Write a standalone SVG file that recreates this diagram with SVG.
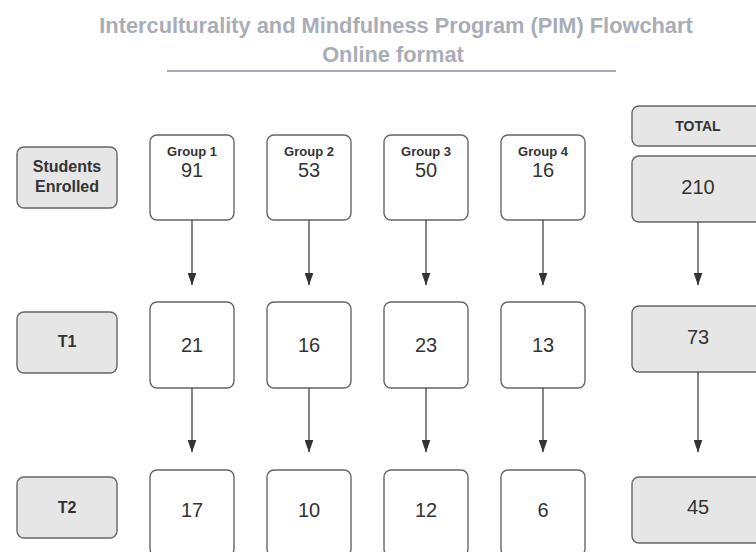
<svg xmlns="http://www.w3.org/2000/svg" width="756" height="552" viewBox="0 0 756 552">
<style>
.t{font-family:"Liberation Sans",Arial,sans-serif;fill:#333;text-anchor:middle}
.b{font-weight:bold}
.box{fill:#fff;stroke:#666;stroke-width:1.4}
.gbox{fill:#e6e6e6;stroke:#666;stroke-width:1.4}
.title{font-family:"Liberation Sans",Arial,sans-serif;font-weight:bold;fill:#a9adb6;text-anchor:middle;font-size:21.8px}
.conn line{stroke:#444;stroke-width:1.3}
</style>
<defs>
<marker id="ah" markerWidth="13" markerHeight="9" refX="12.5" refY="4.5" orient="auto" markerUnits="userSpaceOnUse" viewBox="0 0 13 9">
<path d="M0,0 L13,4.5 L0,9 Z" fill="#333"/>
</marker>
</defs>
<rect width="756" height="552" fill="#fff"/>
<g id="title">
<text class="title" x="396" y="33">Interculturality and Mindfulness Program (PIM) Flowchart</text>
<text class="title" x="393" y="62">Online format</text>
<line x1="167" y1="71" x2="616" y2="71" stroke="#a9adb6" stroke-width="2"/>
</g>
<g id="label-enrolled"><rect class="gbox" x="17" y="147" width="100" height="61" rx="7"/>
<text class="t b" x="67" y="172" font-size="16">Students</text><text class="t b" x="67" y="192" font-size="16">Enrolled</text></g>
<g id="label-t1"><rect class="gbox" x="17" y="312" width="100" height="61" rx="7"/><text class="t b" x="67" y="347" font-size="16">T1</text></g>
<g id="label-t2"><rect class="gbox" x="17" y="477" width="100" height="61" rx="7"/><text class="t b" x="67" y="513" font-size="16">T2</text></g>

<g id="g1-enrolled"><rect class="box" x="150" y="135" width="84" height="85" rx="7"/><text class="t b" x="192" y="156" font-size="13">Group 1</text><text class="t" x="192" y="177" font-size="20">91</text></g>
<g id="g2-enrolled"><rect class="box" x="267" y="135" width="84" height="85" rx="7"/><text class="t b" x="309" y="156" font-size="13">Group 2</text><text class="t" x="309" y="177" font-size="20">53</text></g>
<g id="g3-enrolled"><rect class="box" x="384" y="135" width="84" height="85" rx="7"/><text class="t b" x="426" y="156" font-size="13">Group 3</text><text class="t" x="426" y="177" font-size="20">50</text></g>
<g id="g4-enrolled"><rect class="box" x="501" y="135" width="84" height="85" rx="7"/><text class="t b" x="543" y="156" font-size="13">Group 4</text><text class="t" x="543" y="177" font-size="20">16</text></g>

<g id="g1-t1"><rect class="box" x="150" y="302" width="84" height="86" rx="7"/><text class="t" x="192" y="352" font-size="20">21</text></g>
<g id="g2-t1"><rect class="box" x="267" y="302" width="84" height="86" rx="7"/><text class="t" x="309" y="352" font-size="20">16</text></g>
<g id="g3-t1"><rect class="box" x="384" y="302" width="84" height="86" rx="7"/><text class="t" x="426" y="352" font-size="20">23</text></g>
<g id="g4-t1"><rect class="box" x="501" y="302" width="84" height="86" rx="7"/><text class="t" x="543" y="352" font-size="20">13</text></g>

<g id="g1-t2"><rect class="box" x="150" y="470" width="84" height="86" rx="7"/><text class="t" x="192" y="517" font-size="20">17</text></g>
<g id="g2-t2"><rect class="box" x="267" y="470" width="84" height="86" rx="7"/><text class="t" x="309" y="517" font-size="20">10</text></g>
<g id="g3-t2"><rect class="box" x="384" y="470" width="84" height="86" rx="7"/><text class="t" x="426" y="517" font-size="20">12</text></g>
<g id="g4-t2"><rect class="box" x="501" y="470" width="84" height="86" rx="7"/><text class="t" x="543" y="517" font-size="20">6</text></g>

<g id="total-label"><rect class="gbox" x="632" y="106" width="132" height="40" rx="7"/><text class="t b" x="698" y="131" font-size="14">TOTAL</text></g>
<g id="total-enrolled"><rect class="gbox" x="632" y="156" width="132" height="66" rx="7"/><text class="t" x="698" y="194" font-size="20">210</text></g>
<g id="total-t1"><rect class="gbox" x="632" y="306" width="132" height="66" rx="7"/><text class="t" x="698" y="344" font-size="20">73</text></g>
<g id="total-t2"><rect class="gbox" x="632" y="477" width="132" height="66" rx="7"/><text class="t" x="698" y="514" font-size="20">45</text></g>

<g id="connectors" class="conn">
<line x1="192" y1="220" x2="192" y2="285" marker-end="url(#ah)"/>
<line x1="309" y1="220" x2="309" y2="285" marker-end="url(#ah)"/>
<line x1="426" y1="220" x2="426" y2="285" marker-end="url(#ah)"/>
<line x1="543" y1="220" x2="543" y2="285" marker-end="url(#ah)"/>
<line x1="698" y1="222" x2="698" y2="285" marker-end="url(#ah)"/>
<line x1="192" y1="388" x2="192" y2="452" marker-end="url(#ah)"/>
<line x1="309" y1="388" x2="309" y2="452" marker-end="url(#ah)"/>
<line x1="426" y1="388" x2="426" y2="452" marker-end="url(#ah)"/>
<line x1="543" y1="388" x2="543" y2="452" marker-end="url(#ah)"/>
<line x1="698" y1="372" x2="698" y2="452" marker-end="url(#ah)"/>
</g>
</svg>
